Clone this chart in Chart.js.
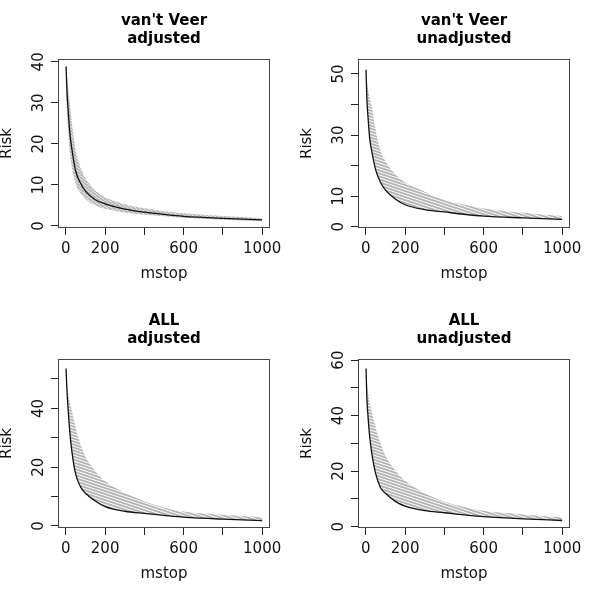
<!DOCTYPE html>
<html><head><meta charset="utf-8">
<script src="https://cdn.jsdelivr.net/npm/chart.js@4/dist/chart.umd.min.js"></script>
<style>
html,body{margin:0;padding:0;background:#fff;width:600px;height:600px;overflow:hidden}
.p{position:absolute;width:300px;height:300px}
</style></head><body>
<div class="p" style="left:0;top:0"><canvas id="c0" width="300" height="300"></canvas></div>
<div class="p" style="left:300px;top:0"><canvas id="c1" width="300" height="300"></canvas></div>
<div class="p" style="left:0;top:300px"><canvas id="c2" width="300" height="300"></canvas></div>
<div class="p" style="left:300px;top:300px"><canvas id="c3" width="300" height="300"></canvas></div>
<script>
// ---- data ----
const mstop = [1,5,10,20,30,50,75,100,150,200,300,400,500,600,800,1000];
const xTicks = [0,200,400,600,800,1000];
const xTickLabels = ['0','200','','600','','1000'];
const titles = [["van't Veer","adjusted"],["van't Veer","unadjusted"],["ALL","adjusted"],["ALL","unadjusted"]];
const xTitle = 'mstop';
const yTitle = 'Risk';

const veerAdjRisk  = [38.9,33.5,29.5,22.9,19.0,13.4,10.4,8.5,6.4,5.4,4.1,3.35,2.8,2.35,1.85,1.5];
const veerAdjUpper = [38.5,37.0,35.0,30.0,25.5,18.5,14.2,11.6,8.6,7.0,5.3,4.3,3.6,3.1,2.4,1.9];
const veerAdjLower = [33.0,28.0,24.0,18.0,14.5,10.3,8.0,6.6,5.0,4.2,3.3,2.75,2.35,2.0,1.5,1.15];

const veerUnadjRisk  = [51.4,42.0,36.8,28.6,24.8,18.6,14.5,12.0,9.1,7.2,5.6,4.85,4.1,3.5,2.9,2.4];
const veerUnadjUpper = [51.0,48.0,45.5,42.0,39.5,31.5,25.0,21.5,17.2,14.5,11.5,8.8,7.3,6.0,4.6,3.5];

const allAdjRisk  = [53.6,47.0,41.3,32.0,25.7,17.6,13.3,11.1,8.5,6.6,5.0,4.25,3.6,3.0,2.3,1.8];
const allAdjUpper = [52.0,49.0,46.0,42.0,39.5,33.5,27.7,23.5,18.6,15.2,11.3,8.4,6.2,4.9,3.8,3.0];

const allUnadjRisk  = [57.0,46.5,40.7,32.1,26.6,19.1,14.0,12.0,9.1,7.4,5.75,5.0,4.2,3.6,2.8,2.2];
const allUnadjUpper = [55.0,52.0,49.0,44.5,41.5,35.5,30.0,25.5,20.2,16.5,12.0,9.0,7.1,5.7,4.4,3.4];

const yTicksVeerAdj = [0,10,20,30,40];
const yLabelsVeerAdj = ['0','10','20','30','40'];
const yTicksVeerUnadj = [0,10,20,30,40,50];
const yLabelsVeerUnadj = ['0','10','','30','','50'];
const yTicksAllAdj = [0,10,20,30,40,50];
const yLabelsAllAdj = ['0','','20','','40',''];
const yTicksAllUnadj = [0,10,20,30,40,50,60];
const yLabelsAllUnadj = ['0','','20','','40','','60'];

// ---- rendering ----
Chart.defaults.font.family = '"DejaVu Sans", Verdana, sans-serif';
Chart.defaults.font.size = 15;
Chart.defaults.color = '#111';

function hatch(w, h, lw, col) {
  const c = document.createElement('canvas'); c.width = w; c.height = h;
  const g = c.getContext('2d');
  g.strokeStyle = col; g.lineWidth = lw;
  for (const y0 of [-h, 0, h]) { g.beginPath(); g.moveTo(0, y0); g.lineTo(w, y0 + h); g.stroke(); }
  return g.createPattern(c, 'repeat');
}
const pts = arr => mstop.map((m, i) => ({x: m, y: arr[i]}));

const framePlugin = {
  id: 'frame',
  afterDraw(chart, args, opts) {
    const {ctx, chartArea: a} = chart;
    const y = chart.scales.y;
    ctx.save();
    ctx.strokeStyle = '#444'; ctx.lineWidth = 1;
    ctx.strokeRect(Math.round(a.left) + 0.5, Math.round(a.top) + 0.5, Math.round(a.right - a.left) - 1, Math.round(a.bottom - a.top) - 1);
    ctx.fillStyle = '#111';
    ctx.font = '15px "DejaVu Sans", Verdana, sans-serif';
    ctx.textAlign = 'center'; ctx.textBaseline = 'alphabetic';
    opts.ticks.forEach((v, i) => {
      const lab = opts.labels[i];
      if (!lab) return;
      const py = y.getPixelForValue(v);
      ctx.save(); ctx.translate(a.left - 15, py); ctx.rotate(-Math.PI / 2); ctx.fillText(lab, 0, 0); ctx.restore();
    });
    ctx.restore();
  }
};

const panels = [
  {risk: veerAdjRisk, upper: veerAdjUpper, lower: veerAdjLower, ymin: -0.5, ymax: 40.7, yt: yTicksVeerAdj, yl: yLabelsVeerAdj, hw: 4, hh: 3},
  {risk: veerUnadjRisk, upper: veerUnadjUpper, lower: null, ymin: -0.4, ymax: 54.9, yt: yTicksVeerUnadj, yl: yLabelsVeerUnadj, hw: 9, hh: 3},
  {risk: allAdjRisk, upper: allAdjUpper, lower: null, ymin: -0.7, ymax: 56.8, yt: yTicksAllAdj, yl: yLabelsAllAdj, hw: 9, hh: 3},
  {risk: allUnadjRisk, upper: allUnadjUpper, lower: null, ymin: -0.5, ymax: 60.4, yt: yTicksAllUnadj, yl: yLabelsAllUnadj, hw: 9, hh: 3}
];

panels.forEach((p, i) => {
  const pat = hatch(p.hw, p.hh, 1.9, '#b4b4b4');
  const datasets = [
    {data: pts(p.risk), borderColor: '#111', borderWidth: 1.3, pointRadius: 0, cubicInterpolationMode: 'monotone', fill: false},
    {data: pts(p.upper), borderColor: 'rgba(0,0,0,0)', borderWidth: 0, backgroundColor: pat, pointRadius: 0, cubicInterpolationMode: 'monotone', fill: p.lower ? 2 : 0}
  ];
  if (p.lower) datasets.push({data: pts(p.lower), borderColor: 'rgba(0,0,0,0)', borderWidth: 0, pointRadius: 0, cubicInterpolationMode: 'monotone', fill: false});
  new Chart(document.getElementById('c' + i), {
    type: 'line',
    data: {datasets},
    plugins: [framePlugin],
    options: {
      responsive: false, animation: false, devicePixelRatio: 1,
      layout: {padding: {left: 0, right: 30, top: 0, bottom: 0}},
      plugins: {
        legend: {display: false}, tooltip: {enabled: false},
        title: {display: true, text: titles[i], fullSize: false, color: '#000',
          font: {size: 15, weight: 'bold', lineHeight: '18px'}, padding: {top: 12, bottom: 11}},
        frame: {ticks: p.yt, labels: p.yl}
      },
      scales: {
        x: {
          type: 'linear', min: -40, max: 1040,
          afterBuildTicks: s => { s.ticks = xTicks.map(v => ({value: v})); },
          afterFit: s => { s.height = 72; },
          ticks: {autoSkip: false, maxRotation: 0, padding: 5, color: '#111', font: {size: 15, lineHeight: 1.2},
            callback: (v, idx) => xTickLabels[idx]},
          grid: {drawOnChartArea: false, drawTicks: true, tickLength: 7, color: '#222'},
          border: {display: false},
          title: {display: true, text: xTitle, color: '#111', font: {size: 15, lineHeight: 1}, padding: {top: 0, bottom: 18}}
        },
        y: {
          type: 'linear', min: p.ymin, max: p.ymax,
          afterBuildTicks: s => { s.ticks = p.yt.map(v => ({value: v})); },
          afterFit: s => { s.width = 58; },
          ticks: {display: false},
          grid: {drawOnChartArea: false, drawTicks: true, tickLength: 7, color: '#222'},
          border: {display: false},
          title: {display: true, text: yTitle, color: '#111', font: {size: 15, lineHeight: 1}, padding: {top: 0, bottom: 0}}
        }
      }
    }
  });
});
</script>
</body></html>
